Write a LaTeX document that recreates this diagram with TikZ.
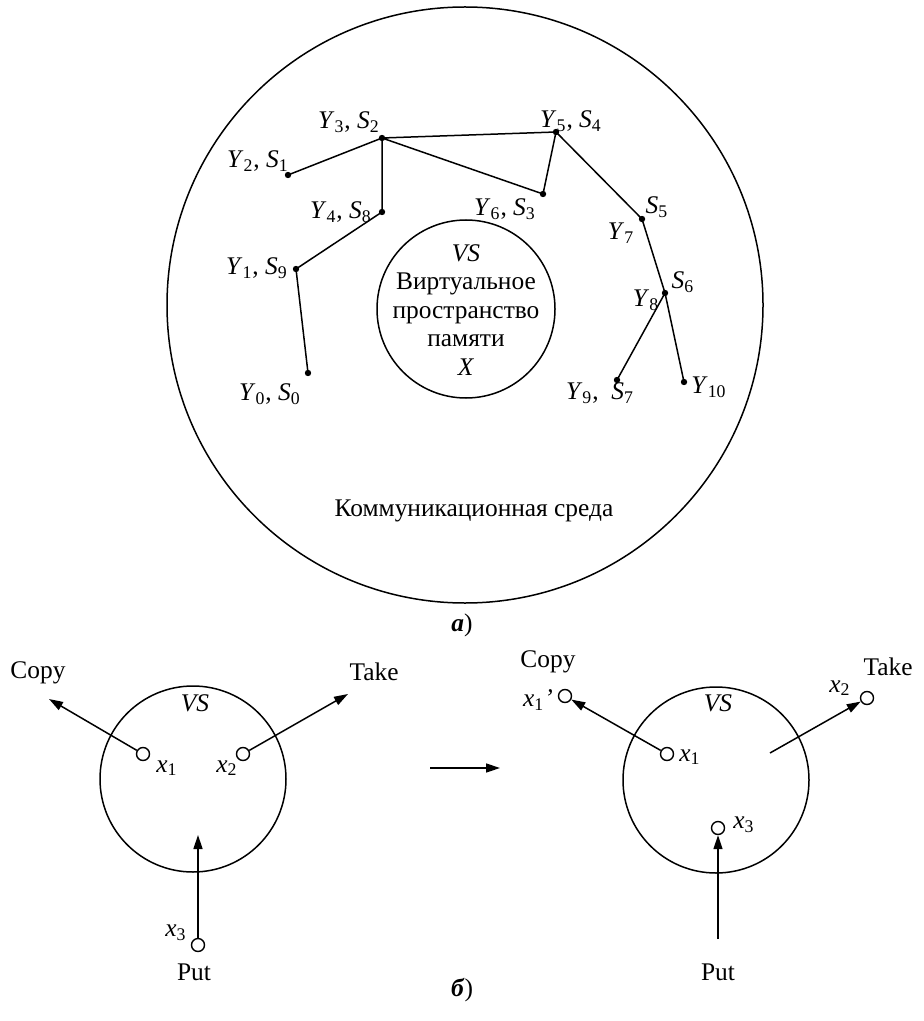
\documentclass[tikz,border=0pt]{standalone}
\usepackage{fontspec}
\setmainfont{Liberation Serif}
\usetikzlibrary{arrows.meta}
\newcommand\lab[2]{\textit{#1}\textsubscript{#2}}
\tikzset{
  ln/.style={line width=0.75pt},
  dot/.style={circle,fill=black,inner sep=0pt,minimum size=3.2pt},
  sc/.style={circle,draw,line width=0.7pt,fill=white,inner sep=0pt,minimum size=6.5pt},
  arr/.style={line width=0.75pt,-{Triangle[length=7pt,width=4.5pt]}},
  txt/.style={inner sep=0pt,font=\fontsize{12.7}{14.25}\selectfont},
  ring/.style={circle,draw,line width=0.75pt,inner sep=0pt}
}
\begin{document}
\begin{tikzpicture}[x=0.5pt,y=-0.5pt]
\useasboundingbox (0,0) rectangle (924,1021);
% ---- part a ----
\node[ring,minimum size=298pt] (env) at (465,305) {};
\node[ring,minimum size=89pt] (vsa) at (466,309) {};
\node[txt,align=center] (vsatext) at (466,310) {\textit{VS}\\Виртуальное\\пространство\\памяти\\\textit{X}};
\node[txt] (envtext) at (474,511) {Коммуникационная среда};

\node[dot] (p0) at (308,373) {};
\node[dot] (p1) at (296,269) {};
\node[dot] (p4) at (382,212) {};
\node[dot] (p3) at (382,138) {};
\node[dot] (p2) at (288,175) {};
\node[dot] (p5) at (556,132) {};
\node[dot] (p6) at (543,194) {};
\node[dot] (p7) at (642,219) {};
\node[dot] (p8) at (665,293) {};
\node[dot] (p9) at (617,380) {};
\node[dot] (p10) at (684,382) {};

\draw[ln] (p0.center) -- (p1.center) -- (p4.center) -- (p3.center) -- (p2.center);
\draw[ln] (p3.center) -- (p5.center) -- (p6.center) -- (p3.center);
\draw[ln] (p5.center) -- (p7.center) -- (p8.center) -- (p10.center);
\draw[ln] (p8.center) -- (p9.center);

\node[txt] (l3) at (349,122) {\lab{Y}{3}, \lab{S}{2}};
\node[txt] (l5) at (571,121) {\lab{Y}{5}, \lab{S}{4}};
\node[txt] (l2) at (258,161) {\lab{Y}{2}, \lab{S}{1}};
\node[txt] (l4) at (341,212) {\lab{Y}{4}, \lab{S}{8}};
\node[txt] (l6) at (505,209) {\lab{Y}{6}, \lab{S}{3}};
\node[txt] (l1) at (257,268) {\lab{Y}{1}, \lab{S}{9}};
\node[txt] (l0) at (270,394) {\lab{Y}{0}, \lab{S}{0}};
\node[txt] (ls5) at (657,207) {\lab{S}{5}};
\node[txt] (ly7) at (621,233) {\lab{Y}{7}};
\node[txt] (ls6) at (683,282) {\lab{S}{6}};
\node[txt] (ly8) at (646,300) {\lab{Y}{8}};
\node[txt] (l9) at (600,393) {\lab{Y}{9},\ \ \lab{S}{7}};
\node[txt] (l10) at (709,387) {\lab{Y}{10}};

\node[txt] (capa) at (462,625) {\textbf{\textit{а}})};

% ---- part b, left ----
\node[ring,minimum size=93pt] (vsl) at (193,779) {};
\node[txt] (vsltext) at (195,703) {\textit{VS}};
\node[sc] (a1) at (143,754) {};
\node[sc] (a2) at (243,754) {};
\node[sc] (a3) at (198,945) {};
\coordinate (copyL) at (49,699);
\coordinate (takeL) at (348,694);
\coordinate (putL) at (198,835);
\draw[arr] (a1) -- (copyL);
\draw[arr] (a2) -- (takeL);
\draw[arr] (a3) -- (putL);
\node[txt] (copyLt) at (38,673) {Copy};
\node[txt] (takeLt) at (374,672) {Take};
\node[txt] (putLt) at (194,972) {Put};
\node[txt] (ax1) at (167,768) {\lab{x}{1}};
\node[txt] (ax2) at (227,768) {\lab{x}{2}};
\node[txt] (ax3) at (176,933) {\lab{x}{3}};

% middle arrow
\coordinate (ms) at (430,768);
\coordinate (me) at (500,768);
\draw[arr] (ms) -- (me);

% ---- part b, right ----
\node[ring,minimum size=93pt] (vsr) at (716,780) {};
\node[txt] (vsrtext) at (718,703) {\textit{VS}};
\node[sc] (r1) at (667,754) {};
\node[sc] (r1p) at (565,696) {};
\node[sc] (r2) at (867,698) {};
\node[sc] (r3) at (718,828) {};
\coordinate (takeR) at (770,753);
\coordinate (putR) at (718,939);
\draw[arr] (r1) -- (r1p);
\draw[arr] (takeR) -- (r2);
\draw[arr] (putR) -- (r3);
\node[txt] (copyRt) at (548,662) {Copy};
\node[txt] (takeRt) at (888,667) {Take};
\node[txt] (putRt) at (718,972) {Put};
\node[txt] (bx1) at (690,757) {\lab{x}{1}};
\node[txt] (bx1p) at (538,700) {\lab{x}{1}\textit{'}};
\node[txt] (bx2) at (840,688) {\lab{x}{2}};
\node[txt] (bx3) at (744,825) {\lab{x}{3}};

\node[txt] (capb) at (462,990) {\textbf{\textit{б}})};
\end{tikzpicture}
\end{document}
